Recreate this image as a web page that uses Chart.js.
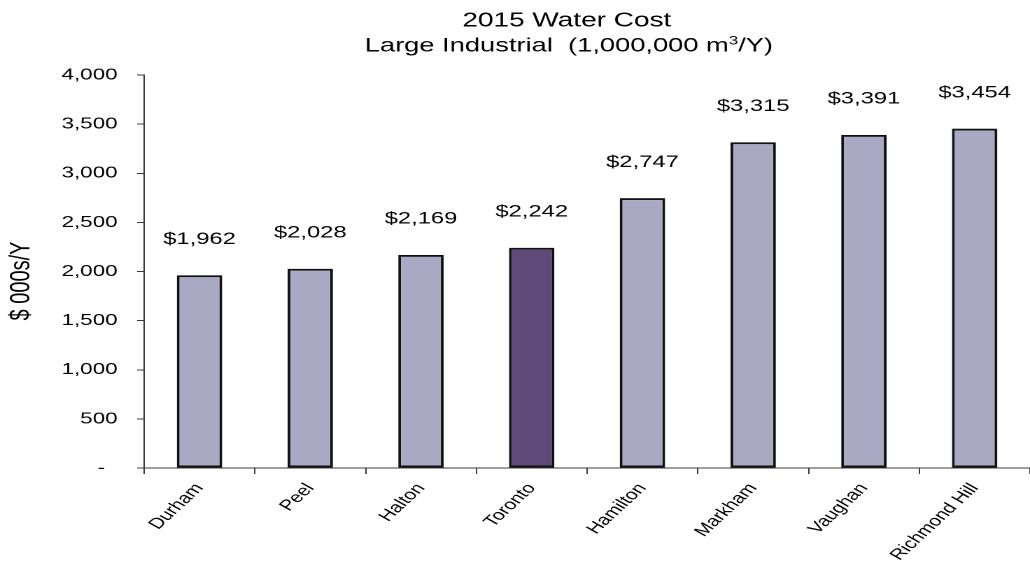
<!DOCTYPE html>
<html><head><meta charset="utf-8">
<script src="https://cdn.jsdelivr.net/npm/chart.js@4.4.0/dist/chart.umd.min.js"></script>
<style>html,body{margin:0;padding:0;background:#fff;overflow:hidden}</style>
</head><body>
<canvas id="c" width="736" height="563" style="width:1030px;height:563px;display:block"></canvas>
<script>
const categories = ['Durham', 'Peel', 'Halton', 'Toronto', 'Hamilton', 'Markham', 'Vaughan', 'Richmond Hill'];
const costs = [1962, 2028, 2169, 2242, 2747, 3315, 3391, 3454];
const highlighted = ['Toronto'];
const titleLine1 = '2015 Water Cost';
const titleLine2Parts = ['Large Industrial  (1,000,000 m', '3', '/Y)'];
const yAxisTitle = '$ 000s/Y';
const yMax = 4000;
const yStep = 500;

const FONT = '"Liberation Sans", Arial, sans-serif';
const barFill = '#A9A9C3';
const hiFill = '#604A7B';
const axisColor = '#3a3a3a';

const textPlugin = {
  id: 'titles',
  afterDraw(chart) {
    const ctx = chart.ctx;
    ctx.save();
    ctx.fillStyle = '#000';
    ctx.textBaseline = 'middle';
    ctx.font = '20px ' + FONT;
    ctx.textAlign = 'center';
    ctx.fillText(titleLine1, 405, 21);
    const mainFont = '19.5px ' + FONT, supFont = '12px ' + FONT;
    ctx.font = mainFont;
    const w0 = ctx.measureText(titleLine2Parts[0]).width;
    const w2 = ctx.measureText(titleLine2Parts[2]).width;
    ctx.font = supFont;
    const w1 = ctx.measureText(titleLine2Parts[1]).width;
    let x = 406.5 - (w0 + w1 + w2) / 2;
    ctx.textAlign = 'left';
    ctx.font = mainFont;
    ctx.fillText(titleLine2Parts[0], x, 46);
    x += w0;
    ctx.font = supFont;
    ctx.fillText(titleLine2Parts[1], x, 41);
    x += w1;
    ctx.font = mainFont;
    ctx.fillText(titleLine2Parts[2], x, 46);
    ctx.translate(15.4, 281);
    ctx.rotate(-Math.PI / 2);
    ctx.textAlign = 'center';
    ctx.font = '20px ' + FONT;
    ctx.fillText(yAxisTitle, 0, 0);
    ctx.restore();
  }
};

const valueLabels = {
  id: 'valueLabels',
  afterDatasetsDraw(chart) {
    const ctx = chart.ctx;
    const meta = chart.getDatasetMeta(0);
    ctx.save();
    ctx.fillStyle = '#000';
    ctx.font = '17px ' + FONT;
    ctx.textAlign = 'center';
    ctx.textBaseline = 'middle';
    meta.data.forEach((bar, i) => {
      ctx.fillText('$' + costs[i].toLocaleString('en-US'), bar.x, bar.y - 36);
    });
    ctx.restore();
  }
};

new Chart(document.getElementById('c'), {
  type: 'bar',
  data: {
    labels: categories,
    datasets: [{
      data: costs,
      backgroundColor: categories.map(c => highlighted.includes(c) ? hiFill : barFill),
      borderColor: '#111',
      borderWidth: 2,
      borderSkipped: false,
      barPercentage: 0.41,
      categoryPercentage: 1.0
    }]
  },
  options: {
    responsive: false,
    devicePixelRatio: 2,
    animation: false,
    layout: { padding: { top: 75, right: -4, bottom: 0, left: 0 } },
    plugins: { legend: { display: false }, title: { display: false }, tooltip: { enabled: false } },
    scales: {
      x: {
        afterFit(s) { s.height = 95; },
        grid: { display: true, drawOnChartArea: false, drawTicks: true, tickLength: 6, color: axisColor, offset: true },
        border: { display: true, color: axisColor, width: 1 },
        ticks: {
          color: '#000', font: { family: FONT, size: 15 },
          minRotation: 52, maxRotation: 52, padding: 6, labelOffset: 0, autoSkip: false
        }
      },
      y: {
        min: 0, max: yMax,
        afterFit(s) { s.width = 103; },
        grid: { display: true, drawOnChartArea: false, drawTicks: true, tickLength: 5, color: axisColor },
        border: { display: true, color: axisColor, width: 1 },
        ticks: {
          stepSize: yStep, color: '#000', font: { family: FONT, size: 16 }, padding: 14,
          callback: v => v === 0 ? '-  ' : v.toLocaleString('en-US')
        },
        title: { display: false }
      }
    }
  },
  plugins: [textPlugin, valueLabels]
});
</script>
</body></html>
